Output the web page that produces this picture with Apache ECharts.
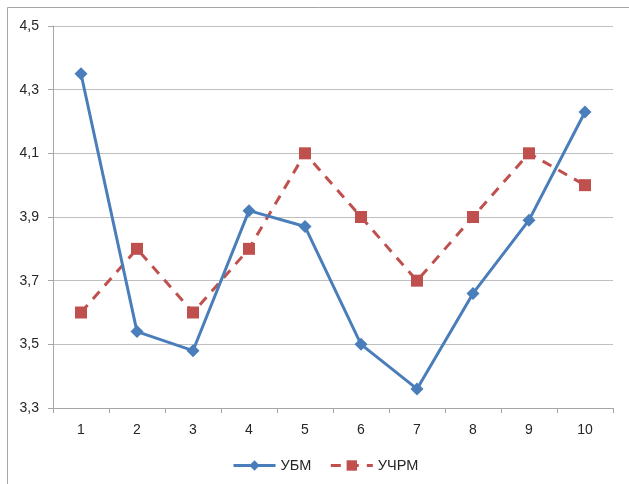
<!DOCTYPE html>
<html>
<head>
<meta charset="utf-8">
<script src="https://cdn.jsdelivr.net/npm/echarts@6/dist/echarts.min.js"></script>
<style>
  html, body { margin: 0; padding: 0; background: #fff; }
  #chart { width: 629px; height: 484px; }
</style>
</head>
<body>
<div id="chart"></div>
<script>
// Categories along the x axis
const categories = ['1', '2', '3', '4', '5', '6', '7', '8', '9', '10'];
// Series values
const ubmValues = [4.35, 3.54, 3.48, 3.92, 3.87, 3.50, 3.36, 3.66, 3.89, 4.23];
const uchrmValues = [3.6, 3.8, 3.6, 3.8, 4.1, 3.9, 3.7, 3.9, 4.1, 4.0];
const seriesNames = ['УБМ', 'УЧРМ'];

const chart = echarts.init(document.getElementById('chart'), null, { renderer: 'canvas' });
const font = 'Liberation Sans, Arial, sans-serif';
const textColor = '#262626';

chart.setOption({
  animation: false,
  backgroundColor: '#fff',
  textStyle: { fontFamily: font },
  graphic: [{
    type: 'rect',
    shape: { x: 7.5, y: 7.5, width: 640, height: 500 },
    style: { fill: 'none', stroke: '#a6a6a6', lineWidth: 1 },
    silent: true
  }],
  grid: { left: 53, right: 16, top: 26, bottom: 76, containLabel: false },
  legend: {
    bottom: 6,
    left: 227,
    itemWidth: 42,
    itemHeight: 13,
    itemGap: 18,
    lineStyle: { width: 3 },
    textStyle: { fontSize: 14.5, color: textColor, fontFamily: font },
    data: seriesNames
  },
  xAxis: {
    type: 'category',
    data: categories,
    boundaryGap: true,
    axisLine: { lineStyle: { color: '#a6a6a6', width: 1 } },
    axisTick: { show: true, alignWithLabel: false, length: 5, lineStyle: { color: '#a6a6a6' } },
    axisLabel: { fontSize: 14, color: textColor, margin: 15, fontFamily: font },
    splitLine: { show: false }
  },
  yAxis: {
    type: 'value',
    min: 3.3,
    max: 4.5,
    interval: 0.2,
    axisLine: { show: true, lineStyle: { color: '#a6a6a6', width: 1 } },
    axisTick: { show: true, length: 5, inside: false, lineStyle: { color: '#a6a6a6' } },
    axisLabel: {
      fontSize: 14, color: textColor, margin: 14, fontFamily: font,
      formatter: v => v.toFixed(1).replace('.', ',')
    },
    splitLine: { show: true, lineStyle: { color: '#bfbfbf', width: 1 } }
  },
  series: [
    {
      name: seriesNames[0],
      type: 'line',
      data: ubmValues,
      symbol: 'diamond',
      symbolSize: 13,
      color: '#4a7ebb',
      lineStyle: { color: '#4a7ebb', width: 3 },
      itemStyle: { color: '#4a7ebb' },
      z: 3
    },
    {
      name: seriesNames[1],
      type: 'line',
      data: uchrmValues,
      symbol: 'rect',
      symbolSize: 12,
      color: '#c0504d',
      lineStyle: { color: '#c0504d', width: 3, type: [10, 8] },
      itemStyle: { color: '#c0504d' },
      z: 2
    }
  ]
});
</script>
</body>
</html>
